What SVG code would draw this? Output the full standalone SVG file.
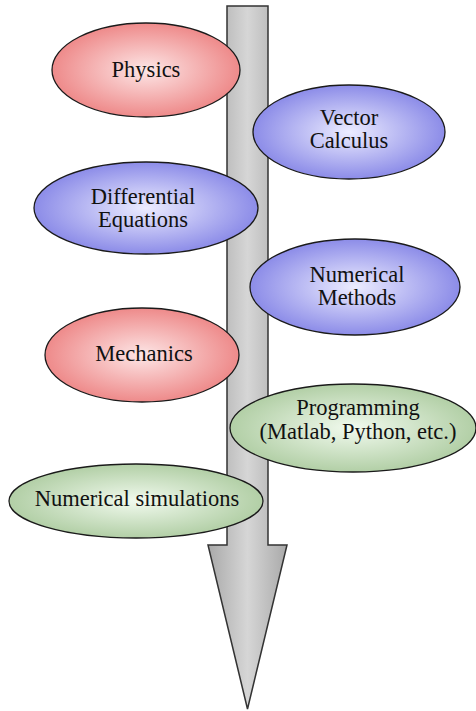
<svg xmlns="http://www.w3.org/2000/svg" width="476" height="711" viewBox="0 0 476 711">
<defs>
<linearGradient id="gArrow" x1="0" y1="0" x2="1" y2="0">
<stop offset="0" stop-color="#a9a9a9"/>
<stop offset="0.5" stop-color="#d6d6d6"/>
<stop offset="1" stop-color="#a9a9a9"/>
</linearGradient>
<radialGradient id="gRed" cx="0.5" cy="0.5" r="0.5">
<stop offset="0" stop-color="#fde6e6"/>
<stop offset="1" stop-color="#ee8a8a"/>
</radialGradient>
<radialGradient id="gBlue" cx="0.5" cy="0.5" r="0.5">
<stop offset="0" stop-color="#ececff"/>
<stop offset="1" stop-color="#8c8ce8"/>
</radialGradient>
<radialGradient id="gGreen" cx="0.5" cy="0.5" r="0.5">
<stop offset="0" stop-color="#f1faee"/>
<stop offset="1" stop-color="#b2cfa6"/>
</radialGradient>
</defs>
<style>
.n ellipse{stroke:#1a1a1a;stroke-width:1.3}
.red{fill:url(#gRed)}
.blue{fill:url(#gBlue)}
.green{fill:url(#gGreen)}
.t{font-family:'Liberation Serif','DejaVu Serif',serif;font-size:22.5px;fill:#111;text-anchor:middle}
.arrow{fill:url(#gArrow);stroke:#333;stroke-width:1.5;stroke-linejoin:miter}
</style>
<g id="connectors">
<path class="arrow" d="M227,6 L268,6 L268,545 L287,545 L247.5,709 L208,545 L227,545 Z"/>
</g>
<g id="physics" class="n">
<ellipse class="red" cx="146" cy="70" rx="94" ry="47"/>
<text class="t" font-family="Liberation Serif, serif" x="146" y="77">Physics</text>
</g>
<g id="vector-calculus" class="n">
<ellipse class="blue" cx="349" cy="132" rx="96" ry="47"/>
<text class="t" font-family="Liberation Serif, serif" x="349" y="125">Vector</text>
<text class="t" font-family="Liberation Serif, serif" x="349" y="148">Calculus</text>
</g>
<g id="differential-equations" class="n">
<ellipse class="blue" cx="146" cy="208" rx="112" ry="46"/>
<text class="t" font-family="Liberation Serif, serif" x="143" y="204">Differential</text>
<text class="t" font-family="Liberation Serif, serif" x="143" y="227">Equations</text>
</g>
<g id="numerical-methods" class="n">
<ellipse class="blue" cx="355" cy="287" rx="105" ry="48"/>
<text class="t" font-family="Liberation Serif, serif" x="357" y="282">Numerical</text>
<text class="t" font-family="Liberation Serif, serif" x="357" y="305">Methods</text>
</g>
<g id="mechanics" class="n">
<ellipse class="red" cx="142" cy="355" rx="97" ry="47"/>
<text class="t" font-family="Liberation Serif, serif" x="144" y="361">Mechanics</text>
</g>
<g id="programming" class="n">
<ellipse class="green" cx="353" cy="428" rx="123" ry="44"/>
<text class="t" font-family="Liberation Serif, serif" x="358" y="415">Programming</text>
<text class="t" font-family="Liberation Serif, serif" x="358" y="439">(Matlab, Python, etc.)</text>
</g>
<g id="numerical-simulations" class="n">
<ellipse class="green" cx="136" cy="501" rx="127" ry="37"/>
<text class="t" font-family="Liberation Serif, serif" x="137" y="506">Numerical simulations</text>
</g>
</svg>
